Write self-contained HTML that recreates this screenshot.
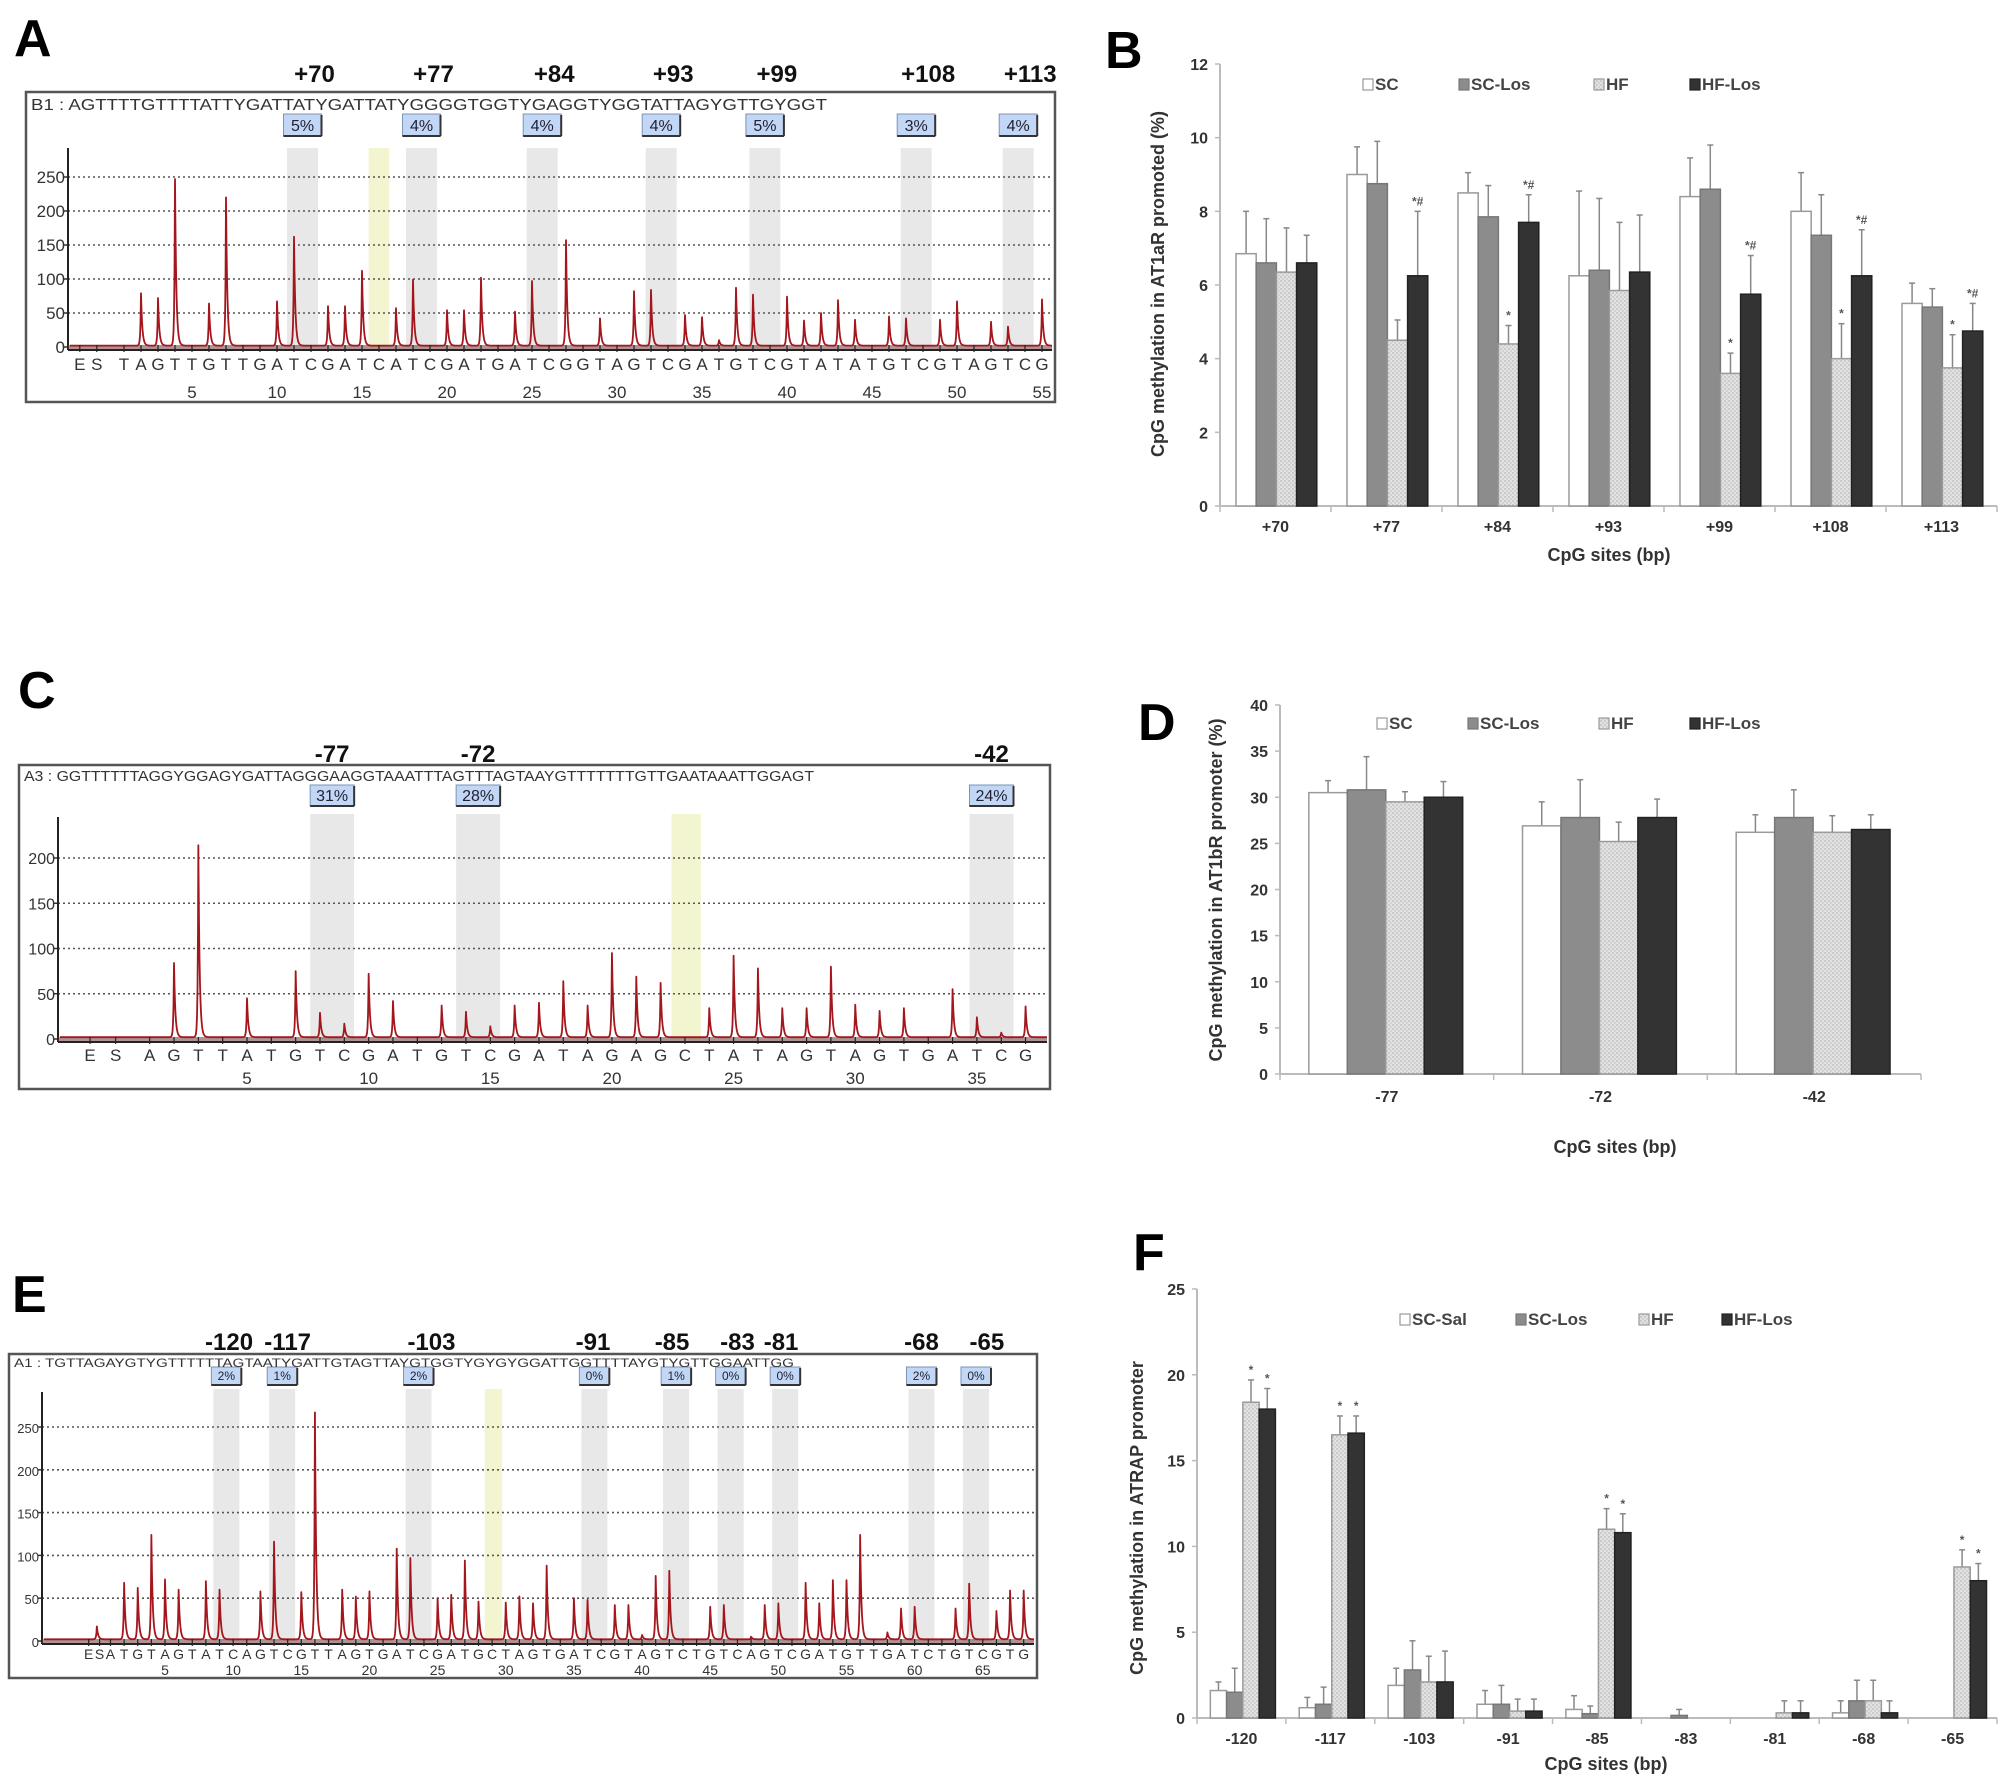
<!DOCTYPE html>
<html><head><meta charset="utf-8"><title>CpG methylation figure</title>
<style>
html,body{margin:0;padding:0;background:#fff;}
svg{display:block;font-family:"Liberation Sans",Arial,sans-serif;}
</style></head>
<body>
<svg id="fig" width="2008" height="1776" viewBox="0 0 2008 1776" xmlns="http://www.w3.org/2000/svg">
<defs>
<pattern id="dots" width="4" height="4" patternUnits="userSpaceOnUse">
<rect width="4" height="4" fill="#e2e2e2"/><circle cx="1" cy="1" r="0.7" fill="#a8a8a8"/><circle cx="3" cy="3" r="0.7" fill="#b8b8b8"/>
</pattern>
</defs>
<g id="root"></g>
</svg>
<script>
// ===== Panel A pyrogram data =====
const aPeakIdx = [2,3,4,6,7,10,11,13,14,15,17,18,20,21,22,24,25,27,29,31,32,34,35,36,37,38,40,41,42,43,44,46,47,49,50,52,53,55];
const aPeakVal = [77,70,245,62,218,65,160,58,58,110,55,97,52,52,100,50,95,155,40,80,82,45,42,8,85,75,72,37,48,67,38,43,40,38,65,35,28,68];
const aLetters = "TAGTTGTTGATCGATCATCGATGATCGGTAGTCGATGTCGTATATGTCGTAGTCG";
const aSites = ["+70","+77","+84","+93","+99","+108","+113"];
const aSiteIdx = [11.5,18.5,25.6,32.6,38.7,47.6,53.6];
const aPct = ["5%","4%","4%","4%","5%","3%","4%"];
const aYellow = [16];
const aTicks = [0,50,100,150,200,250];
const aNums = [5,10,15,20,25,30,35,40,45,50,55];

// ===== Panel C pyrogram data =====
const cPeakIdx = [2,3,5,7,8,9,10,11,13,14,15,16,17,18,19,20,21,22,24,25,26,27,28,29,30,31,32,34,35,36,37];
const cPeakVal = [82,212,43,73,27,15,70,40,35,28,12,35,38,62,35,93,67,60,32,90,76,32,32,78,36,29,32,53,22,5,34];
const cLetters = "AGTTATGTCGATGTCGATAGAGCTATAGTAGTGATCG";
const cSites = ["-77","-72","-42"];
const cSiteIdx = [8.5,14.5,35.6];
const cPct = ["31%","28%","24%"];
const cYellow = [23.05];
const cTicks = [0,50,100,150,200];
const cNums = [5,10,15,20,25,30,35];

// ===== Panel E pyrogram data =====
const ePeakIdx = [0,2,3,4,5,6,8,9,12,13,15,16,18,19,20,22,23,25,26,27,28,30,31,32,33,35,36,38,39,40,41,42,45,46,48,49,50,52,53,54,55,56,58,59,60,63,64,66,67,68];
const ePeakVal = [15,66,60,122,70,58,68,58,56,114,55,265,58,50,56,106,95,48,52,92,44,43,50,42,86,48,46,40,40,5,74,80,38,40,3,40,42,66,42,69,69,122,8,36,38,36,65,33,57,57];
const eLetters = "ATGTAGTATCAGTCGTTAGTGATCGATGCTAGTGATCGTAGTCTGTCAGTCGATGTTGATCTGTCGTG";
const eSites = ["-120","-117","-103","-91","-85","-83","-81","-68","-65"];
const eSiteIdx = [9.5,13.6,23.6,36.5,42.5,46.5,50.5,60.5,64.5];
const eLabelIdx = [9.7,14.0,24.55,36.4,42.2,47.0,50.2,60.5,65.3];
const ePct = ["2%","1%","2%","0%","1%","0%","0%","2%","0%"];
const eYellow = [29.1];
const eTicks = [0,50,100,150,200,250];
const eNums = [5,10,15,20,25,30,35,40,45,50,55,60,65];

// ===== Panel B bar data =====
const bCats = ["+70","+77","+84","+93","+99","+108","+113"];
const bSC     = [6.85,9.0,8.5,6.25,8.4,8.0,5.5];
const bSCLos  = [6.6,8.75,7.85,6.4,8.6,7.35,5.4];
const bHF     = [6.35,4.5,4.4,5.85,3.6,4.0,3.75];
const bHFLos  = [6.6,6.25,7.7,6.35,5.75,6.25,4.75];
const bSCErr    = [1.15,0.75,0.55,2.3,1.05,1.05,0.55];
const bSCLosErr = [1.2,1.15,0.85,1.95,1.2,1.1,0.5];
const bHFErr    = [1.2,0.55,0.5,1.85,0.55,0.95,0.9];
const bHFLosErr = [0.75,1.75,0.75,1.55,1.05,1.25,0.75];
const bHFMark    = ["","","*","","*","*","*"];
const bHFLosMark = ["","*#","*#","","*#","*#","*#"];
const bTicks = [0,2,4,6,8,10,12];

// ===== Panel D bar data =====
const dCats = ["-77","-72","-42"];
const dSC    = [30.5,26.9,26.2];
const dSCLos = [30.8,27.8,27.8];
const dHF    = [29.5,25.2,26.2];
const dHFLos = [30.0,27.8,26.5];
const dSCErr    = [1.3,2.6,1.9];
const dSCLosErr = [3.6,4.1,3.0];
const dHFErr    = [1.1,2.1,1.8];
const dHFLosErr = [1.7,2.0,1.6];
const dTicks = [0,5,10,15,20,25,30,35,40];

// ===== Panel F bar data =====
const fCats = ["-120","-117","-103","-91","-85","-83","-81","-68","-65"];
const fSCSal = [1.6,0.6,1.9,0.8,0.5,0,0,0.3,0];
const fSCLos = [1.5,0.8,2.8,0.8,0.25,0.15,0,1.0,0];
const fHF    = [18.4,16.5,2.1,0.4,11.0,0,0.3,1.0,8.8];
const fHFLos = [18.0,16.6,2.1,0.4,10.8,0,0.3,0.3,8.0];
const fSCSalErr = [0.5,0.6,1.0,0.8,0.8,0,0,0.7,0];
const fSCLosErr = [1.4,1.0,1.7,1.1,0.45,0.35,0,1.2,0];
const fHFErr    = [1.3,1.1,1.5,0.7,1.2,0,0.7,1.2,1.0];
const fHFLosErr = [1.2,1.0,1.8,0.7,1.1,0,0.7,0.7,1.0];
const fHFMark    = ["*","*","","","*","","","","*"];
const fHFLosMark = ["*","*","","","*","","","","*"];
const fTicks = [0,5,10,15,20,25];

const NS = "http://www.w3.org/2000/svg";
const root = document.getElementById("root");
function el(tag, attrs, parent, text){
  const e = document.createElementNS(NS, tag);
  for (const k in attrs) e.setAttribute(k, attrs[k]);
  if (text !== undefined) e.textContent = text;
  (parent || root).appendChild(e);
  return e;
}

function panelLetter(txt, x, y){
  const t = el("text", {x:x, y:y, "font-size":52, "font-weight":"bold", fill:"#000"}, root, txt);
  
  
}

// ---------- Pyrogram ----------
function pyrogram(cfg){
  const g = el("g", {});
  
  
  const X = i => cfg.x5 + (i - 5) * cfg.step;
  const Y = v => cfg.y0 - v * cfg.ppu;
  const box = el("rect", {x:cfg.box[0], y:cfg.box[1], width:cfg.box[2]-cfg.box[0], height:cfg.box[3]-cfg.box[1], fill:"#fff", stroke:"#555", "stroke-width":2.5}, g);
  
  
  cfg.siteIdx.forEach((si, k) => {
    const b = el("rect", {x:X(si)-cfg.bandW/2, y:cfg.bandTop, width:cfg.bandW, height:cfg.y0-cfg.bandTop, fill:"#e8e8e8"}, g);
    
    
    const px = X(si);
    const r = el("rect", {x:px-cfg.pctW/2, y:cfg.pctY, width:cfg.pctW, height:cfg.pctH, fill:"#c2d6f5", stroke:"#7d93b8", "stroke-width":1}, g);
    
    
    el("line", {x1:px+cfg.pctW/2, y1:cfg.pctY+1, x2:px+cfg.pctW/2, y2:cfg.pctY+cfg.pctH, stroke:"#333", "stroke-width":2}, g);
    el("line", {x1:px-cfg.pctW/2, y1:cfg.pctY+cfg.pctH, x2:px+cfg.pctW/2, y2:cfg.pctY+cfg.pctH, stroke:"#333", "stroke-width":2}, g);
    const t = el("text", {x:px, y:cfg.pctY+cfg.pctH-5, "font-size":cfg.pctFont, "text-anchor":"middle", fill:"#223"}, g, cfg.pct[k]);
    
    
    const lx = cfg.labelIdx ? X(cfg.labelIdx[k]) : px + (cfg.labelShift || 0);
    const s = el("text", {x:lx, y:cfg.siteY, "font-size":cfg.siteFont, "font-weight":"bold", "text-anchor":"middle", fill:"#111"}, g, cfg.sites[k]);
    
    
  });
  cfg.yellow.forEach(yi => {
    const b = el("rect", {x:X(yi)-cfg.bandW/3, y:cfg.bandTop, width:cfg.bandW*2/3, height:cfg.y0-cfg.bandTop, fill:"#f2f5cf"}, g);
    
    
  });
  cfg.ticks.forEach(v => {
    if (v > 0) {
      const gl = el("line", {x1:cfg.axisX, y1:Y(v), x2:cfg.box[2]-3, y2:Y(v), stroke:"#555", "stroke-width":1.6, "stroke-dasharray":"2 3"}, g);
      
      
    }
    el("line", {x1:cfg.axisX-4, y1:Y(v), x2:cfg.axisX, y2:Y(v), stroke:"#333", "stroke-width":1.5}, g);
    const t = el("text", {x:cfg.axisX-3, y:Y(v)+6, "font-size":cfg.tickFont, "text-anchor":"end", fill:"#333"}, g, String(v));
    
    
  });
  el("line", {x1:cfg.axisX, y1:cfg.axisTop, x2:cfg.axisX, y2:cfg.y0+3, stroke:"#222", "stroke-width":2}, g);
  el("rect", {x:cfg.axisX, y:cfg.y0-2, width:cfg.box[2]-3-cfg.axisX, height:5, fill:"#6a3a3c", opacity:0.55}, g);
  el("line", {x1:cfg.axisX, y1:cfg.y0+3, x2:cfg.box[2]-3, y2:cfg.y0+3, stroke:"#222", "stroke-width":2}, g);
  // sample points: regular grid plus exact peak positions
  const x0 = cfg.axisX + 2, x1 = cfg.box[2] - 3;
  const xs = [];
  for (let x = x0; x <= x1; x += 0.5) xs.push(x);
  cfg.peakIdx.forEach(p => { const px = X(p); if (px > x0 && px < x1) xs.push(px); });
  xs.sort((a, b) => a - b);
  let d = "";
  xs.forEach(x => {
    let v = 2;
    for (let k = 0; k < cfg.peakIdx.length; k++) {
      const dx = x - X(cfg.peakIdx[k]);
      if (dx < 0) v += cfg.peakVal[k] * Math.exp(dx / 0.6);
      else v += cfg.peakVal[k] * Math.exp(-dx / 1.3);
    }
    d += (d ? "L" : "M") + x.toFixed(2) + " " + Y(v).toFixed(1);
  });
  const tr = el("path", {d:d, fill:"none", stroke:"#a3161c", "stroke-width":1.8, "stroke-linejoin":"round"}, g);
  
  
  const all = ["E","S"].concat(cfg.letters.split(""));
  all.forEach((ch, k) => {
    const xi = k < 2 ? X(cfg.esIdx[k]) : X(k - 1);
    el("line", {x1:xi, y1:cfg.y0-2, x2:xi, y2:cfg.y0+5, stroke:"#222", "stroke-width":1.2}, g);
    const t = el("text", {x:xi, y:cfg.letterY, "font-size":cfg.letterFont, "text-anchor":"middle", fill:"#333"}, g, ch);
    
    
  });
  cfg.nums.forEach(n => {
    const t = el("text", {x:X(n), y:cfg.numY, "font-size":cfg.letterFont, "text-anchor":"middle", fill:"#333"}, g, String(n));
    
    
  });
  const sq = el("text", {x:cfg.box[0]+5, y:cfg.seqY, "font-size":cfg.seqFont, fill:"#333", textLength:cfg.seqLen, lengthAdjust:"spacingAndGlyphs"}, g, cfg.seq);
  
  
}

// ---------- Bar chart ----------
function barChart(cfg){
  const g = el("g", {});
  
  
  const n = cfg.cats.length;
  const cw = (cfg.xr - cfg.xl) / n;
  const Y = v => cfg.y0 - (v / cfg.ymax) * (cfg.y0 - cfg.ytop);
  const bw = cw * cfg.bwFrac, off = cw * cfg.offFrac;
  const fills = ["#ffffff", "#8c8c8c", "url(#dots)", "#333333"];
  const strokes = ["#9a9a9a", "#777", "#9a9a9a", "#222"];
  el("line", {x1:cfg.xl, y1:cfg.ytop, x2:cfg.xl, y2:cfg.y0, stroke:"#bbb", "stroke-width":2}, g);
  el("line", {x1:cfg.xl, y1:cfg.y0, x2:cfg.xr, y2:cfg.y0, stroke:"#bbb", "stroke-width":2}, g);
  cfg.ticks.forEach(v => {
    el("line", {x1:cfg.xl-5, y1:Y(v), x2:cfg.xl, y2:Y(v), stroke:"#bbb", "stroke-width":1.5}, g);
    const t = el("text", {x:cfg.xl-12, y:Y(v)+6, "font-size":16, "font-weight":"bold", "text-anchor":"end", fill:"#333"}, g, String(v));
    
    
  });
  for (let i = 0; i <= n; i++) {
    el("line", {x1:cfg.xl+i*cw, y1:cfg.y0, x2:cfg.xl+i*cw, y2:cfg.y0+6, stroke:"#bbb", "stroke-width":1.5}, g);
  }
  cfg.cats.forEach((c, i) => {
    const t = el("text", {x:cfg.xl+i*cw+cw/2, y:cfg.catY, "font-size":16, "font-weight":"bold", "text-anchor":"middle", fill:"#333"}, g, c);
    
    
  });
  cfg.series.forEach((s, si) => {
    s.vals.forEach((v, i) => {
      const x = cfg.xl + i*cw + off + si*bw;
      const e = s.err[i];
      if (e > 0) {
        el("line", {x1:x+bw/2, y1:Y(v), x2:x+bw/2, y2:Y(v+e), stroke:"#888", "stroke-width":1.5}, g);
        el("line", {x1:x+bw/2-3, y1:Y(v+e), x2:x+bw/2+3, y2:Y(v+e), stroke:"#888", "stroke-width":1.5}, g);
      }
      if (v > 0) {
        const r = el("rect", {x:x, y:Y(v), width:bw, height:cfg.y0-Y(v), fill:fills[si], stroke:strokes[si], "stroke-width":1.5}, g);
        
        
      }
      if (s.mark && s.mark[i]) {
        const t = el("text", {x:x+bw/2, y:Y(v+e)-6, "font-size":12, "font-weight":"bold", "text-anchor":"middle", fill:"#555"}, g, s.mark[i]);
        
        
      }
    });
  });
  cfg.series.forEach((s, si) => {
    const lx = cfg.legX[si];
    const sw = el("rect", {x:lx, y:cfg.legY-11, width:10, height:11, fill:fills[si], stroke:strokes[si], "stroke-width":1.2}, g);
    
    
    const t = el("text", {x:lx+12, y:cfg.legY, "font-size":17, "font-weight":"bold", fill:"#444"}, g, s.label);
    
    
  });
  const xt = el("text", {x:cfg.titleX, y:cfg.titleY, "font-size":18, "font-weight":"bold", "text-anchor":"middle", fill:"#333"}, g, "CpG sites (bp)");
  
  
  const yt = el("text", {x:0, y:0, "font-size":18, "font-weight":"bold", "text-anchor":"middle", fill:"#333", transform:"translate(" + cfg.ytX + "," + cfg.ytY + ") rotate(-90)"}, g, cfg.ytitle);
  
  
}

panelLetter("A", 14, 56);
panelLetter("B", 1105, 68);
panelLetter("C", 18, 708);
panelLetter("D", 1138, 740);
panelLetter("E", 12, 1312);
panelLetter("F", 1133, 1270);

pyrogram({name:"pyrogram-a", box:[26,92,1055,402], axisX:68, axisTop:148, y0:347, ppu:170/250,
  x5:192, step:17.0, peakIdx:aPeakIdx, peakVal:aPeakVal, letters:aLetters, esIdx:[-1.6,-0.6],
  siteIdx:aSiteIdx, sites:aSites, pct:aPct, yellow:aYellow, ticks:aTicks, nums:aNums,
  bandW:31, bandTop:148, pctY:114, pctH:22, pctW:38, pctFont:16, siteY:82, siteFont:24, labelShift:12,
  tickFont:17, letterFont:17, letterY:370, numY:398, seqY:110, seqFont:16, seqLen:796,
  seq:"B1 : AGTTTTGTTTTATTYGATTATYGATTATYGGGGTGGTYGAGGTYGGTATTAGYGTTGYGGT"});

pyrogram({name:"pyrogram-c", box:[19,765,1050,1089], axisX:58, axisTop:817, y0:1039, ppu:181/200,
  x5:247, step:24.33, peakIdx:cPeakIdx, peakVal:cPeakVal, letters:cLetters, esIdx:[-1.45,-0.4],
  siteIdx:cSiteIdx, sites:cSites, pct:cPct, yellow:cYellow, ticks:cTicks, nums:cNums,
  bandW:44, bandTop:814, pctY:785, pctH:21, pctW:44, pctFont:16, siteY:762, siteFont:24, labelShift:0,
  tickFont:16, letterFont:17, letterY:1061, numY:1084, seqY:781, seqFont:15, seqLen:790,
  seq:"A3 :  GGTTTTTTAGGYGGAGYGATTAGGGAAGGTAAATTTAGTTTAGTAAYGTTTTTTTGTTGAATAAATTGGAGT"});

pyrogram({name:"pyrogram-e", box:[9,1354,1037,1678], axisX:42, axisTop:1392, y0:1641, ppu:214/250,
  x5:165, step:13.63, peakIdx:ePeakIdx, peakVal:ePeakVal, letters:eLetters, esIdx:[-0.6,0.2],
  siteIdx:eSiteIdx, labelIdx:eLabelIdx, sites:eSites, pct:ePct, yellow:eYellow, ticks:eTicks, nums:eNums,
  bandW:26, bandTop:1389, pctY:1367, pctH:18, pctW:30, pctFont:12, siteY:1350, siteFont:24,
  tickFont:13, letterFont:14, letterY:1659, numY:1675, seqY:1367, seqFont:12, seqLen:780,
  seq:"A1 : TGTTAGAYGTYGTTTTTTAGTAATYGATTGTAGTTAYGTGGTYGYGYGGATTGGTTTTAYGTYGTTGGAATTGG"});

barChart({name:"bar-chart-b", cats:bCats, xl:1220, xr:1997, y0:506, ytop:64, ymax:12, ticks:bTicks,
  bwFrac:0.182, offFrac:0.144, catY:532, titleX:1609, titleY:561, ytX:1164, ytY:284,
  ytitle:"CpG methylation in AT1aR promoted (%)", legY:90, legX:[1363,1459,1594,1690],
  series:[
    {key:"sc", label:"SC", vals:bSC, err:bSCErr},
    {key:"sc-los", label:"SC-Los", vals:bSCLos, err:bSCLosErr},
    {key:"hf", label:"HF", vals:bHF, err:bHFErr, mark:bHFMark},
    {key:"hf-los", label:"HF-Los", vals:bHFLos, err:bHFLosErr, mark:bHFLosMark}]});

barChart({name:"bar-chart-d", cats:dCats, xl:1280, xr:1921, y0:1074, ytop:705, ymax:40, ticks:dTicks,
  bwFrac:0.18, offFrac:0.135, catY:1102, titleX:1615, titleY:1153, ytX:1222, ytY:890,
  ytitle:"CpG methylation in AT1bR promoter (%)", legY:729, legX:[1377,1468,1599,1690],
  series:[
    {key:"sc", label:"SC", vals:dSC, err:dSCErr},
    {key:"sc-los", label:"SC-Los", vals:dSCLos, err:dSCLosErr},
    {key:"hf", label:"HF", vals:dHF, err:dHFErr},
    {key:"hf-los", label:"HF-Los", vals:dHFLos, err:dHFLosErr}]});

barChart({name:"bar-chart-f", cats:fCats, xl:1197, xr:1997, y0:1718, ytop:1289, ymax:25, ticks:fTicks,
  bwFrac:0.183, offFrac:0.15, catY:1744, titleX:1606, titleY:1770, ytX:1143, ytY:1518,
  ytitle:"CpG methylation in ATRAP promoter", legY:1325, legX:[1400,1516,1639,1722],
  series:[
    {key:"sc-sal", label:"SC-Sal", vals:fSCSal, err:fSCSalErr},
    {key:"sc-los", label:"SC-Los", vals:fSCLos, err:fSCLosErr},
    {key:"hf", label:"HF", vals:fHF, err:fHFErr, mark:fHFMark},
    {key:"hf-los", label:"HF-Los", vals:fHFLos, err:fHFLosErr, mark:fHFLosMark}]});
</script>
</body></html>
